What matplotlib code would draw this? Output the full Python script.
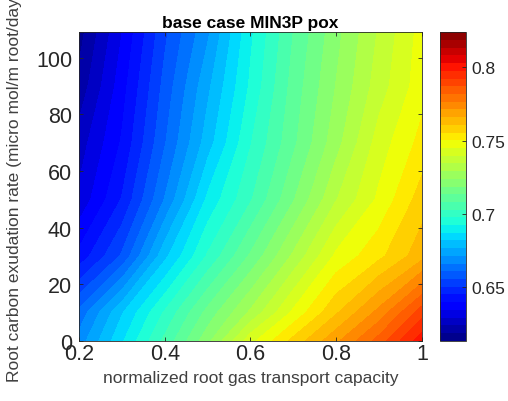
import numpy as np
import matplotlib
matplotlib.use("Agg")
import matplotlib.pyplot as plt

plt.rcParams['font.family'] = ['Liberation Sans', 'DejaVu Sans']

# grid
x_cap = [0.2, 0.3, 0.4, 0.5, 0.6, 0.7, 0.8, 0.9, 1.0]
y_rate = [0, 10, 30, 50, 70, 90, 109]
pox = [
    [0.668, 0.686, 0.704, 0.722, 0.743, 0.757, 0.770, 0.784, 0.801],
    [0.662, 0.681, 0.698, 0.715, 0.730, 0.746, 0.760, 0.773, 0.790],
    [0.641, 0.656, 0.680, 0.698, 0.714, 0.730, 0.746, 0.754, 0.764],
    [0.630, 0.645, 0.666, 0.688, 0.702, 0.718, 0.734, 0.746, 0.758],
    [0.626, 0.640, 0.660, 0.679, 0.697, 0.712, 0.727, 0.742, 0.752],
    [0.620, 0.637, 0.657, 0.675, 0.693, 0.710, 0.724, 0.737, 0.748],
    [0.616, 0.634, 0.654, 0.670, 0.691, 0.708, 0.722, 0.735, 0.747],
]
cmin, cmax = 0.613, 0.824
cbar_ticks = [0.65, 0.7, 0.75, 0.8]
cbar_labels = ['0.65', '0.7', '0.75', '0.8']
x_ticks = [0.2, 0.4, 0.6, 0.8, 1.0]
x_labels = ['0.2', '0.4', '0.6', '0.8', '1']
y_ticks = [0, 20, 40, 60, 80, 100]

fig = plt.figure(figsize=(5.08, 4.02), dpi=100)
ax = fig.add_axes([0.1555, 0.150, 0.675, 0.767])
cax = fig.add_axes([0.866, 0.150, 0.0506, 0.767])

levels = np.linspace(cmin, cmax, 41)
cs = ax.contourf(x_cap, y_rate, pox, levels=levels, cmap='jet',
                 vmin=cmin, vmax=cmax, antialiased=False)
ax.set_xlim(0.2, 1.0)
ax.set_ylim(0, 109)
ax.set_xticks(x_ticks)
ax.set_xticklabels(x_labels)
ax.set_yticks(y_ticks)
ax.tick_params(direction='in', top=True, right=True, labelsize=15.5,
               length=3, width=0.6, color='#262626', labelcolor='#262626')
ax.tick_params(axis='x', pad=2)
ax.tick_params(axis='y', pad=5)
for s in ax.spines.values():
    s.set_color('#262626')
    s.set_linewidth(0.6)

ax.set_title('base case MIN3P pox', fontsize=12.5, fontweight='bold', pad=4)
ax.set_xlabel('normalized root gas transport capacity', fontsize=12.5,
              color='#404040', labelpad=4)
ax.set_ylabel('Root carbon exudation rate (micro mol/m root/day)',
              fontsize=12.5, color='#404040')
ax.yaxis.set_label_coords(-0.166, 0.5)

cb = fig.colorbar(cs, cax=cax, ticks=cbar_ticks)
cb.set_ticklabels(cbar_labels)
cb.ax.tick_params(direction='in', labelsize=12.5, length=3, width=0.6,
                  color='#262626', labelcolor='#262626', pad=4)
cb.outline.set_linewidth(0.6)
cb.outline.set_edgecolor('#262626')

fig.savefig('out.png', dpi=100)
